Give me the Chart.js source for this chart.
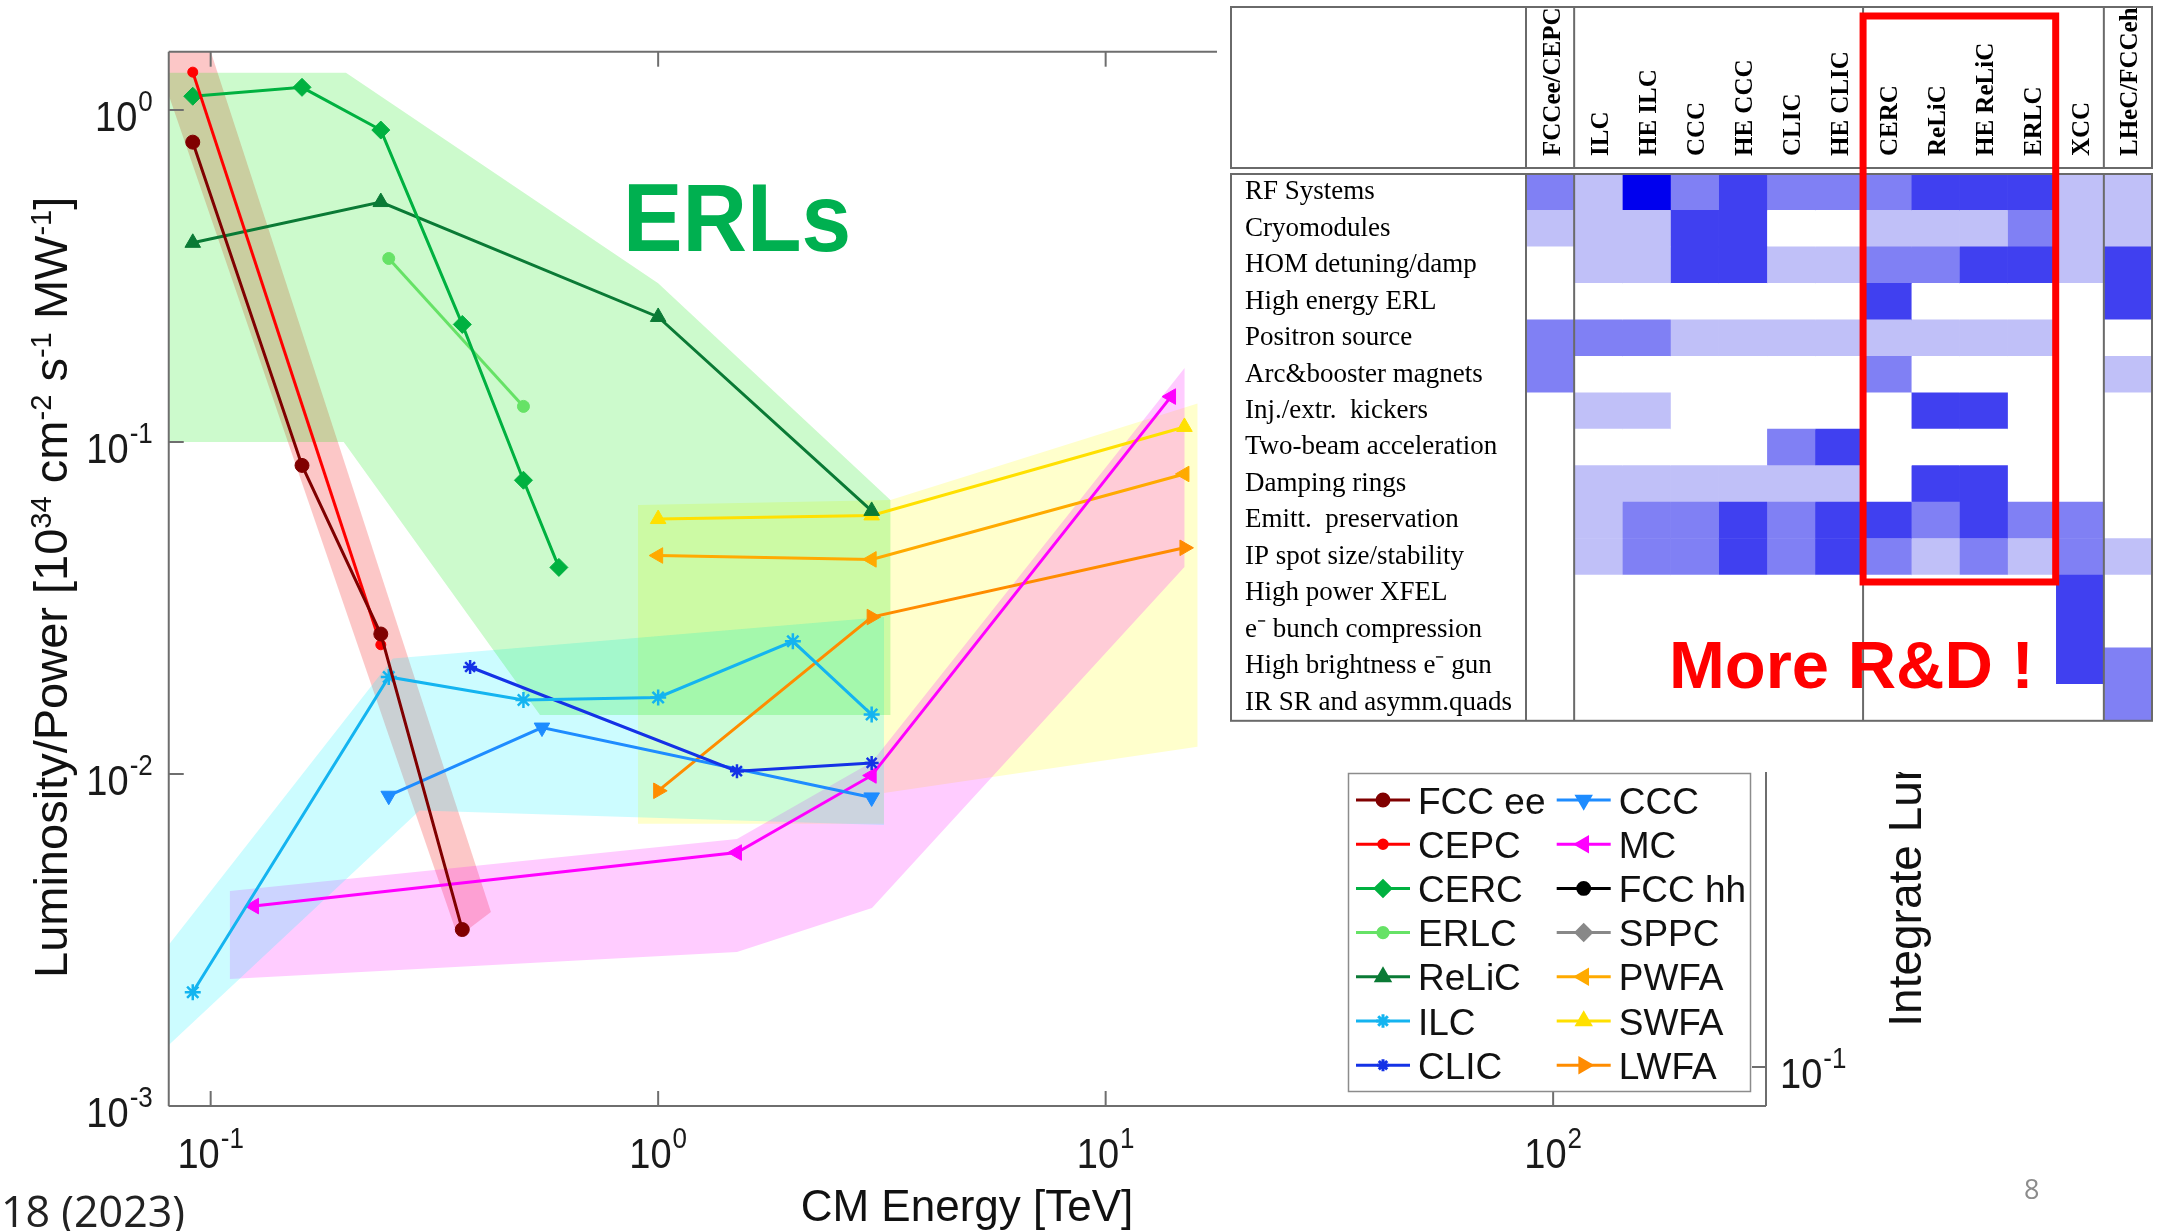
<!DOCTYPE html>
<html>
<head>
<meta charset="utf-8">
<script src="https://cdn.jsdelivr.net/npm/chart.js@4.4.1/dist/chart.umd.min.js"></script>
<style>
  html, body { margin: 0; padding: 0; background: #fff; }
  #stage { position: relative; width: 2161px; height: 1231px; overflow: hidden; font-family: "Liberation Sans", Arial, sans-serif; }
  #plot { position: absolute; left: 0; top: 0; z-index: 0; }
  #table { position: absolute; left: 1230px; top: 0; z-index: 1; }
  .ov { position: absolute; white-space: nowrap; z-index: 2; }
  .s { font-size: 0.62em; position: relative; top: -0.55em; }
  #ytitle { left: 0; top: 0; font-size: 47px; line-height: 47px; color: #111; transform-origin: 0 0; transform: translate(27px, 978px) rotate(-90deg); }
  #xtitle { left: 0; width: 1934px; text-align: center; top: 1184px; font-size: 44px; line-height: 44px; color: #111; }
  #erls { left: 623px; top: 170px; font: bold 96px/96px "Liberation Sans", Arial, sans-serif; color: #00b050; transform: scaleX(0.93); transform-origin: 0 0; }
  #rnd { left: 1669px; top: 631px; font: bold 67px/67px "Liberation Sans", Arial, sans-serif; color: #ff0000; }
  #intwrap { left: 1870px; top: 772px; width: 80px; height: 300px; overflow: hidden; }
  #intlum { position: absolute; left: 0; top: 0; white-space: nowrap; font-size: 46px; line-height: 46px; color: #111; transform-origin: 0 0; transform: translate(11.6px, 254.7px) rotate(-90deg); }
  #ref { left: 1px; top: 1189px; font: 43px/43px "Open Sans", sans-serif; color: #222; }
  #page { left: 2024px; top: 1175px; font: 27px/27px "Open Sans", sans-serif; color: #8c8c8c; }
</style>
</head>
<body>
<div id="stage">
  <canvas id="plot" width="2161" height="1231"></canvas>
  <canvas id="table" width="931" height="740"></canvas>
  <div class="ov" id="ytitle">Luminosity/Power [10<span class="s">34</span> cm<span class="s">-2</span> s<span class="s">-1</span> MW<span class="s">-1</span>]</div>
  <div class="ov" id="xtitle">CM Energy [TeV]</div>
  <div class="ov" id="erls">ERLs</div>
  <div class="ov" id="rnd">More R&amp;D !</div>
  <div class="ov" id="intwrap"><div id="intlum">Integrate Luminosity</div></div>
  <div class="ov" id="ref">18 (2023)</div>
  <div class="ov" id="page">8</div>
</div>
<script>
// ---- main plot: CM energy [TeV] vs luminosity/power ----
const fccEeE = [0.0912, 0.16, 0.24, 0.365];
const fccEeL = [0.80, 0.085, 0.0264, 0.0034];
const cepcE = [0.0912, 0.24];
const cepcL = [1.30, 0.0245];
const cercE = [0.0912, 0.16, 0.24, 0.365, 0.5, 0.6];
const cercL = [1.10, 1.17, 0.87, 0.226, 0.0767, 0.0419];
const erlcE = [0.25, 0.5];
const erlcL = [0.357, 0.128];
const relicE = [0.0912, 0.24, 1, 3];
const relicL = [0.398, 0.528, 0.238, 0.062];
const ilcE = [0.0912, 0.25, 0.5, 1, 2, 3];
const ilcL = [0.0022, 0.0196, 0.0167, 0.0170, 0.0251, 0.0151];
const clicE = [0.38, 1.5, 3];
const clicL = [0.0210, 0.0102, 0.0108];
const cccE = [0.25, 0.55, 3];
const cccL = [0.0086, 0.0138, 0.0085];
const mcE = [0.125, 1.5, 3, 14];
const mcL = [0.0040, 0.0058, 0.0099, 0.137];
const fccHhE = [];
const fccHhL = [];
const sppcE = [];
const sppcL = [];
const pwfaE = [1, 3, 15];
const pwfaL = [0.0455, 0.0443, 0.0801];
const swfaE = [1, 3, 15];
const swfaL = [0.0586, 0.0601, 0.111];
const lwfaE = [1, 3, 15];
const lwfaL = [0.0089, 0.0297, 0.048];

// shaded technology regions (polygon corners)
const erlRegionE = [0.0731, 0.2006, 1.0, 3.304, 3.304, 0.5444, 0.1983, 0.0731];
const erlRegionL = [1.295, 1.295, 0.3009, 0.06687, 0.01506, 0.01506, 0.1, 0.1];
const circRegionE = [0.0731, 0.0981, 0.423, 0.357];
const circRegionL = [1.625, 1.625, 0.00384, 0.00323];
const linRegionE = [0.0627, 0.2554, 3.196, 3.196, 0.293, 0.0627];
const linRegionL = [0.001987, 0.02226, 0.02971, 0.00702, 0.00776, 0.001113];
const mcRegionE = [0.1104, 1.5, 3.005, 15.01, 15.0, 3.005, 1.5, 0.1104];
const mcRegionL = [0.004443, 0.006371, 0.01087, 0.1671, 0.04201, 0.003949, 0.00291, 0.002413];
const wfaRegionE = [0.9013, 3.304, 16.04, 16.04, 3.196, 3.196, 0.9013];
const wfaRegionL = [0.0646, 0.06687, 0.1307, 0.01208, 0.008766, 0.007085, 0.007085];

const xTicks = [0.1, 1, 10, 100];
const yTicks = [1, 0.1, 0.01, 0.001];
const rightTick = 0.1;   // lone tick of the overlapping right-hand axes

// ---- R&D table ----
const heatCols = ['FCCee/CEPC', 'ILC', 'HE ILC', 'CCC', 'HE CCC', 'CLIC', 'HE CLIC',
  'CERC', 'ReLiC', 'HE ReLiC', 'ERLC', 'XCC', 'LHeC/FCCeh'];
const heatRows = ['RF Systems', 'Cryomodules', 'HOM detuning/damp', 'High energy ERL',
  'Positron source', 'Arc&booster magnets', 'Inj./extr.  kickers', 'Two-beam acceleration',
  'Damping rings', 'Emitt.  preservation', 'IP spot size/stability', 'High power XFEL',
  'e\u207B bunch compression', 'High brightness e\u207B gun', 'IR SR and asymm.quads'];
// 0 none .. 4 most R&D needed
const rfLevels = [2, 1, 4, 2, 3, 2, 2, 2, 3, 3, 3, 1, 1];
const cryoLevels = [1, 1, 1, 3, 3, 0, 0, 1, 1, 1, 2, 1, 1];
const homLevels = [0, 1, 1, 3, 3, 1, 1, 2, 2, 3, 3, 1, 3];
const erlLevels = [0, 0, 0, 0, 0, 0, 0, 3, 0, 0, 0, 0, 3];
const positronLevels = [2, 2, 2, 1, 1, 1, 1, 1, 1, 1, 1, 0, 0];
const arcLevels = [2, 0, 0, 0, 0, 0, 0, 2, 0, 0, 0, 0, 1];
const kickerLevels = [0, 1, 1, 0, 0, 0, 0, 0, 3, 3, 0, 0, 0];
const twoBeamLevels = [0, 0, 0, 0, 0, 2, 3, 0, 0, 0, 0, 0, 0];
const dampingLevels = [0, 1, 1, 1, 1, 1, 1, 0, 3, 3, 0, 0, 0];
const emittLevels = [0, 1, 2, 2, 3, 2, 3, 3, 2, 3, 2, 2, 0];
const ipLevels = [0, 1, 2, 2, 3, 2, 3, 2, 1, 2, 1, 2, 1];
const xfelLevels = [0, 0, 0, 0, 0, 0, 0, 0, 0, 0, 0, 3, 0];
const bunchLevels = [0, 0, 0, 0, 0, 0, 0, 0, 0, 0, 0, 3, 0];
const gunLevels = [0, 0, 0, 0, 0, 0, 0, 0, 0, 0, 0, 3, 2];
const irLevels = [0, 0, 0, 0, 0, 0, 0, 0, 0, 0, 0, 0, 2];
const heatLevels = [rfLevels, cryoLevels, homLevels, erlLevels, positronLevels, arcLevels,
  kickerLevels, twoBeamLevels, dampingLevels, emittLevels, ipLevels, xfelLevels,
  bunchLevels, gunLevels, irLevels];
const levelColors = ['#ffffff', '#c0c0f8', '#8080f4', '#4040f0', '#0000ee'];

const toPoints = (E, L) => E.map((e, i) => ({ x: e, y: L[i] }));

// Polygon dataset
function region(E, L, color) {
  return {
    region: true,
    data: toPoints(E, L),
    borderWidth: 0,
    pointRadius: 0,
    backgroundColor: color,
    fill: 'shape',
    tension: 0,
    order: 10
  };
}

// Line + marker dataset
function series(label, E, L, color, style, radius, rotation = 0) {
  return {
    label,
    data: toPoints(E, L),
    borderColor: color,
    backgroundColor: color,
    pointBackgroundColor: color,
    pointBorderColor: color,
    pointStyle: style,
    pointRadius: radius,
    pointRotation: rotation,
    pointBorderWidth: style === 'star' ? 2.5 : 1,
    borderWidth: 3,
    fill: false,
    tension: 0,
    order: 1
  };
}

const font = (size, extra = '') => `${extra}${size}px "Liberation Sans", Arial, sans-serif`;

// 10^n label with vertical stretch like the MATLAB export
function drawPow(ctx, n, px, base, align) {
  const exp = String(n);
  ctx.font = font(38);
  const w1 = ctx.measureText('10').width;
  ctx.font = font(26);
  const w2 = ctx.measureText(exp).width;
  const total = w1 + 1 + w2;
  const left = align === 'center' ? px - total / 2 : align === 'right' ? px - total : px;
  ctx.save();
  ctx.translate(left, base);
  ctx.scale(1, 1.12);
  ctx.textAlign = 'left';
  ctx.textBaseline = 'alphabetic';
  ctx.fillStyle = '#1a1a1a';
  ctx.font = font(38);
  ctx.fillText('10', 0, 0);
  ctx.font = font(26);
  ctx.fillText(exp, w1 + 1, -18);
  ctx.restore();
}

function seg(ctx, x1, y1, x2, y2) {
  ctx.beginPath();
  ctx.moveTo(x1, y1);
  ctx.lineTo(x2, y2);
  ctx.stroke();
}

// Axes box, inward ticks, labels and legend
const framePlugin = {
  id: 'frame',
  afterDraw(chart) {
    const { ctx, chartArea: a, scales: { x, y } } = chart;
    ctx.save();
    ctx.strokeStyle = '#6e6e6e';
    ctx.lineWidth = 2;
    seg(ctx, a.left, a.top, a.left, a.bottom);
    seg(ctx, a.left, a.bottom, a.right, a.bottom);
    seg(ctx, a.left, a.top, 1217, a.top);
    seg(ctx, a.right, 772, a.right, a.bottom);

    xTicks.forEach(v => {
      const px = x.getPixelForValue(v);
      seg(ctx, px, a.bottom, px, a.bottom - 15);
      if (px < 1217) seg(ctx, px, a.top, px, a.top + 15);
      drawPow(ctx, Math.round(Math.log10(v)), px, a.bottom + 62, 'center');
    });
    yTicks.forEach(v => {
      const py = y.getPixelForValue(v);
      seg(ctx, a.left, py, a.left + 15, py);
      drawPow(ctx, Math.round(Math.log10(v)), a.left - 16, py + 21, 'right');
    });
    const ry = 1067;
    seg(ctx, a.right, ry, a.right - 14, ry);
    drawPow(ctx, Math.round(Math.log10(rightTick)), a.right + 14, ry + 21, 'left');

    // legend
    const items = chart.data.datasets.filter(d => !d.region);
    ctx.fillStyle = '#fff';
    ctx.fillRect(1348.5, 773.5, 402, 318);
    ctx.strokeStyle = '#8c8c8c';
    ctx.lineWidth = 1.5;
    ctx.strokeRect(1348.5, 773.5, 402, 318);
    items.forEach((d, i) => {
      const col = Math.floor(i / 7);
      const row = i % 7;
      const x0 = col ? 1556.7 : 1356;
      const cy = 800 + row * 44.2;
      ctx.strokeStyle = d.borderColor;
      ctx.fillStyle = d.borderColor;
      ctx.lineWidth = 3;
      seg(ctx, x0, cy, x0 + 54, cy);
      if (Chart.helpers && Chart.helpers.drawPoint) {
        Chart.helpers.drawPoint(ctx, {
          pointStyle: d.pointStyle,
          radius: d.pointRadius * 0.85,
          rotation: d.pointRotation,
          borderWidth: d.pointBorderWidth
        }, x0 + 27, cy);
      }
      ctx.fillStyle = '#111';
      ctx.font = font(37);
      ctx.textAlign = 'left';
      ctx.textBaseline = 'alphabetic';
      ctx.fillText(d.label, x0 + 62, cy + 13.5);
    });
    ctx.restore();
  }
};

new Chart(document.getElementById('plot'), {
  type: 'line',
  data: {
    datasets: [
      region(erlRegionE, erlRegionL, 'rgba(0, 230, 0, 0.2)'),
      region(linRegionE, linRegionL, 'rgba(0, 240, 255, 0.2)'),
      region(mcRegionE, mcRegionL, 'rgba(255, 0, 255, 0.2)'),
      region(wfaRegionE, wfaRegionL, 'rgba(255, 255, 0, 0.2)'),
      region(circRegionE, circRegionL, 'rgba(240, 0, 0, 0.22)'),
      series('FCC ee', fccEeE, fccEeL, '#800000', 'circle', 7),
      series('CEPC', cepcE, cepcL, '#ff0000', 'circle', 5),
      series('CERC', cercE, cercL, '#00b140', 'rectRot', 9),
      series('ERLC', erlcE, erlcL, '#66e266', 'circle', 6),
      series('ReLiC', relicE, relicL, '#0a7a35', 'triangle', 9),
      series('ILC', ilcE, ilcL, '#14b4f0', 'star', 8),
      series('CLIC', clicE, clicL, '#1432e6', 'star', 7),
      series('CCC', cccE, cccL, '#1e8cff', 'triangle', 9, 180),
      series('MC', mcE, mcL, '#ff00ff', 'triangle', 9, 270),
      series('FCC hh', fccHhE, fccHhL, '#000000', 'circle', 7),
      series('SPPC', sppcE, sppcL, '#888888', 'rectRot', 9),
      series('PWFA', pwfaE, pwfaL, '#ffaa00', 'triangle', 9, 270),
      series('SWFA', swfaE, swfaL, '#ffe000', 'triangle', 9),
      series('LWFA', lwfaE, lwfaL, '#ff8c00', 'triangle', 9, 90)
    ]
  },
  options: {
    responsive: false,
    animation: false,
    devicePixelRatio: 1,
    events: [],
    layout: { padding: { left: 168.75, top: 51.7, right: 395, bottom: 125 } },
    plugins: { legend: { display: false }, tooltip: { enabled: false } },
    scales: {
      x: {
        type: 'logarithmic', min: 0.0806, max: 299,
        grid: { display: false }, border: { display: false }, ticks: { display: false },
        afterFit: s => { s.height = 0; }
      },
      y: {
        type: 'logarithmic', min: 0.001, max: 1.498,
        grid: { display: false }, border: { display: false }, ticks: { display: false },
        afterFit: s => { s.width = 0; }
      }
    }
  },
  plugins: [framePlugin]
});

// Table frame, group separators and red highlight box
const tablePlugin = {
  id: 'tableFrame',
  afterDraw(chart) {
    const { ctx, chartArea: a, scales: { x, y } } = chart;
    ctx.save();
    ctx.strokeStyle = '#6a6a6a';
    ctx.lineWidth = 2;
    ctx.strokeRect(1, 7, a.right - 1, 161);
    ctx.strokeRect(1, a.top, a.right - 1, a.bottom - a.top);
    [0, 1, 7, 12].forEach(v => {
      const px = x.getPixelForValue(v);
      seg(ctx, px, 7, px, 168);
      seg(ctx, px, a.top, px, a.bottom);
    });
    const rowH = (a.bottom - a.top) / heatRows.length;
    const rx1 = x.getPixelForValue(7);
    const rx2 = x.getPixelForValue(11);
    const ryBottom = y.getPixelForValue(10) + rowH / 2 + 7;
    ctx.strokeStyle = '#ff0000';
    ctx.lineWidth = 7;
    ctx.strokeRect(rx1, 16, rx2 - rx1, ryBottom - 16);
    ctx.restore();
  }
};

new Chart(document.getElementById('table'), {
  type: 'bar',
  data: {
    labels: heatRows,
    datasets: heatCols.map((name, c) => ({
      label: name,
      data: heatRows.map(() => 1),
      backgroundColor: heatLevels.map(r => levelColors[r[c]]),
      borderWidth: 0,
      barPercentage: 1,
      categoryPercentage: 1
    }))
  },
  options: {
    indexAxis: 'y',
    responsive: false,
    animation: false,
    devicePixelRatio: 1,
    events: [],
    layout: { padding: { left: 15, right: 9, top: 0, bottom: 14 } },
    plugins: { legend: { display: false }, tooltip: { enabled: false } },
    scales: {
      x: {
        type: 'linear', position: 'top', stacked: true, min: 0, max: heatCols.length,
        grid: { display: false, drawTicks: false }, border: { display: false },
        afterBuildTicks: axis => { axis.ticks = heatCols.map((_, i) => ({ value: i + 0.5 })); },
        ticks: {
          autoSkip: false, minRotation: 90, maxRotation: 90, padding: 18, labelOffset: 33, color: '#000',
          font: { family: '"Liberation Serif", serif', size: 25, weight: 'bold' },
          callback: (v, i) => heatCols[i]
        },
        afterFit: s => { s.height = 174; }
      },
      y: {
        type: 'category', stacked: true,
        grid: { display: false, drawTicks: false }, border: { display: false },
        ticks: {
          crossAlign: 'far', autoSkip: false, color: '#000',
          font: { family: '"Liberation Serif", serif', size: 27 }
        },
        afterFit: s => { s.width = 281; }
      }
    }
  },
  plugins: [tablePlugin]
});
</script>
</body>
</html>
